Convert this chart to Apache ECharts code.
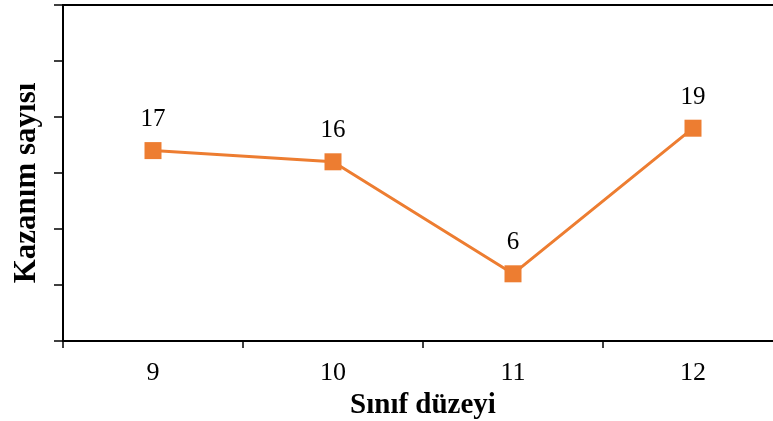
<!DOCTYPE html>
<html>
<head>
<meta charset="utf-8">
<script src="https://cdn.jsdelivr.net/npm/echarts@6/dist/echarts.min.js"></script>
<style>
html,body{margin:0;padding:0;background:#fff;}
#chart{width:773px;height:421px;}
</style>
</head>
<body>
<div id="chart"></div>
<script>
// Grade levels and number of learning outcomes per level
const categories = ['9', '10', '11', '12'];
const outcomeCounts = [17, 16, 6, 19];
const yMin = 0, yMax = 30, yStep = 5;

const serif = '"Liberation Serif", "Times New Roman", serif';
const chart = echarts.init(document.getElementById('chart'));
chart.setOption({
  animation: false,
  grid: {
    left: 63, top: 5, width: 720, bottom: 80,
    outerBoundsMode: 'none',
    containLabel: false,
    show: true, borderColor: '#000', borderWidth: 2, backgroundColor: 'transparent'
  },
  xAxis: {
    type: 'category',
    data: categories,
    boundaryGap: true,
    name: 'Sınıf düzeyi',
    nameLocation: 'middle',
    nameGap: 47,
    nameTextStyle: { fontFamily: serif, fontWeight: 'bold', fontSize: 29, color: '#000' },
    axisLine: { lineStyle: { color: '#000', width: 2 } },
    axisTick: { show: true, length: 7, lineStyle: { color: '#000', width: 1.5 } },
    axisLabel: { fontFamily: serif, fontSize: 26, color: '#000', margin: 19 }
  },
  yAxis: {
    type: 'value',
    min: yMin, max: yMax, interval: yStep,
    name: 'Kazanım sayısı',
    nameLocation: 'middle',
    nameGap: 21,
    nameTextStyle: { fontFamily: serif, fontWeight: 'bold', fontSize: 31, color: '#000', padding: [0, 20, 0, 0] },
    axisLine: { show: true, lineStyle: { color: '#000', width: 2 } },
    axisTick: { show: true, length: 9, lineStyle: { color: '#000', width: 1.5 } },
    axisLabel: { show: false },
    splitLine: { show: false }
  },
  series: [{
    type: 'line',
    data: outcomeCounts,
    symbol: 'rect',
    symbolSize: 17,
    itemStyle: { color: '#ED7D31' },
    lineStyle: { color: '#ED7D31', width: 3 },
    label: {
      show: true, position: 'top', distance: 10,
      fontFamily: serif, fontSize: 25, color: '#000'
    }
  }]
});
</script>
</body>
</html>
